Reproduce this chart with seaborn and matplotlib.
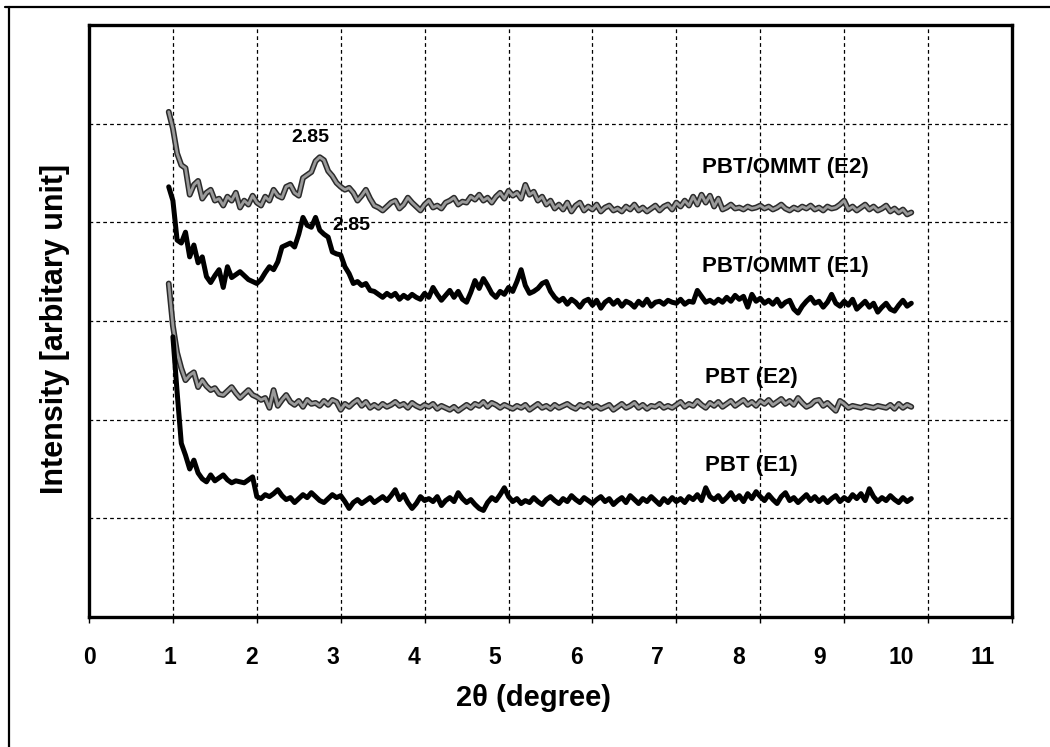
import numpy as np
import pandas as pd
import matplotlib
matplotlib.use("Agg")
import matplotlib.pyplot as plt
import matplotlib.patheffects as pe
from matplotlib.transforms import ScaledTranslation
from matplotlib.lines import Line2D
import seaborn as sns

# -------------------------------
# Data (2theta step 0.05)
# -------------------------------
start_e2 = 0.95
start_pbt_e1 = 1.00
step = 0.05

# PBT/OMMT (E2), grey
ommt_e2 = [
    5.12, 4.95, 4.70, 4.58, 4.55, 4.28, 4.38, 4.42, 4.24, 4.30,
    4.33, 4.22, 4.24, 4.17, 4.26, 4.22, 4.30, 4.15, 4.22, 4.18,
    4.27, 4.20, 4.17, 4.26, 4.22, 4.33, 4.27, 4.25, 4.36, 4.38,
    4.30, 4.27, 4.45, 4.48, 4.51, 4.62, 4.66, 4.63, 4.52, 4.47,
    4.40, 4.36, 4.33, 4.35, 4.30, 4.22, 4.27, 4.33, 4.24, 4.17,
    4.15, 4.12, 4.16, 4.20, 4.22, 4.14, 4.18, 4.25, 4.20, 4.16,
    4.12, 4.18, 4.22, 4.15, 4.17, 4.14, 4.20, 4.22, 4.25, 4.18,
    4.21, 4.20, 4.26, 4.23, 4.28, 4.22, 4.25, 4.20, 4.26, 4.30,
    4.24, 4.32, 4.27, 4.30, 4.24, 4.38, 4.28, 4.31, 4.22, 4.26,
    4.18, 4.22, 4.14, 4.18, 4.13, 4.20, 4.11, 4.17, 4.20, 4.12,
    4.16, 4.13, 4.18, 4.11, 4.15, 4.17, 4.12, 4.14, 4.11, 4.16,
    4.13, 4.18, 4.12, 4.15, 4.11, 4.14, 4.17, 4.12, 4.16, 4.18,
    4.13, 4.20, 4.16, 4.22, 4.17, 4.26, 4.18, 4.28, 4.20, 4.27,
    4.16, 4.24, 4.13, 4.15, 4.18, 4.14, 4.15, 4.13, 4.16, 4.14,
    4.15, 4.17, 4.14, 4.16, 4.13, 4.15, 4.18, 4.14, 4.12, 4.15,
    4.13, 4.16, 4.14, 4.17, 4.13, 4.15, 4.12, 4.16, 4.14, 4.15,
    4.18, 4.22, 4.13, 4.16, 4.12, 4.15, 4.18, 4.13, 4.16, 4.12,
    4.14, 4.17, 4.11, 4.14, 4.10, 4.13, 4.08, 4.10,
]

# PBT/OMMT (E1), black
ommt_e1 = [
    4.36, 4.22, 3.82, 3.79, 3.90, 3.65, 3.77, 3.59, 3.65, 3.45,
    3.39, 3.46, 3.52, 3.34, 3.55, 3.44, 3.47, 3.50, 3.46, 3.42,
    3.40, 3.38, 3.42, 3.49, 3.55, 3.52, 3.60, 3.75, 3.77, 3.79,
    3.75, 3.88, 4.05, 3.97, 3.95, 4.05, 3.92, 3.88, 3.85, 3.70,
    3.68, 3.67, 3.55, 3.48, 3.38, 3.40, 3.36, 3.38, 3.31, 3.30,
    3.27, 3.24, 3.28, 3.25, 3.28, 3.22, 3.26, 3.23, 3.27, 3.24,
    3.22, 3.28, 3.24, 3.34, 3.27, 3.21, 3.26, 3.31, 3.24, 3.30,
    3.22, 3.19, 3.29, 3.41, 3.33, 3.43, 3.36, 3.28, 3.24, 3.30,
    3.27, 3.34, 3.30, 3.40, 3.52, 3.36, 3.28, 3.30, 3.33, 3.38,
    3.40, 3.30, 3.24, 3.20, 3.23, 3.17, 3.22, 3.19, 3.14, 3.20,
    3.22, 3.16, 3.21, 3.13, 3.19, 3.22, 3.17, 3.21, 3.15, 3.20,
    3.18, 3.14, 3.20, 3.16, 3.22, 3.15, 3.19, 3.20, 3.17, 3.21,
    3.19, 3.18, 3.22, 3.17, 3.20, 3.19, 3.31, 3.25, 3.19, 3.21,
    3.18, 3.22, 3.19, 3.24, 3.20, 3.26, 3.22, 3.25, 3.14, 3.27,
    3.20, 3.23, 3.18, 3.21, 3.17, 3.22, 3.15, 3.19, 3.21, 3.12,
    3.08, 3.15, 3.20, 3.24, 3.18, 3.20, 3.14, 3.19, 3.27, 3.18,
    3.15, 3.20, 3.16, 3.22, 3.12, 3.16, 3.20, 3.14, 3.18, 3.09,
    3.14, 3.18, 3.12, 3.10, 3.16, 3.21, 3.15, 3.18,
]

# PBT (E2), grey
pbt_e2 = [
    3.38, 2.95, 2.68, 2.52, 2.40, 2.45, 2.48, 2.33, 2.40, 2.34,
    2.30, 2.32, 2.26, 2.25, 2.29, 2.33, 2.27, 2.22, 2.26, 2.30,
    2.25, 2.23, 2.20, 2.22, 2.12, 2.30, 2.14, 2.20, 2.25, 2.18,
    2.15, 2.19, 2.13, 2.20, 2.16, 2.17, 2.14, 2.19, 2.15, 2.20,
    2.18, 2.10, 2.16, 2.13, 2.17, 2.20, 2.14, 2.18, 2.12, 2.15,
    2.12, 2.16, 2.13, 2.15, 2.18, 2.14, 2.16, 2.12, 2.17, 2.14,
    2.12, 2.15, 2.13, 2.16, 2.11, 2.14, 2.12, 2.10, 2.13, 2.09,
    2.12, 2.15, 2.12, 2.16, 2.14, 2.18, 2.13, 2.17, 2.15, 2.12,
    2.15, 2.13, 2.11, 2.14, 2.12, 2.15, 2.10, 2.13, 2.16, 2.12,
    2.14, 2.11, 2.15, 2.12, 2.14, 2.16, 2.13, 2.11, 2.15, 2.13,
    2.16, 2.12, 2.14, 2.11, 2.13, 2.15, 2.10, 2.13, 2.16, 2.12,
    2.14, 2.17, 2.12, 2.15, 2.11, 2.14, 2.13, 2.16, 2.12, 2.14,
    2.12, 2.15, 2.18, 2.13, 2.16, 2.14, 2.19, 2.15, 2.12, 2.17,
    2.14, 2.18, 2.13, 2.16, 2.19, 2.14, 2.17, 2.20, 2.15, 2.18,
    2.14, 2.19, 2.16, 2.20, 2.15, 2.18, 2.21, 2.16, 2.19, 2.15,
    2.22, 2.17, 2.13, 2.15, 2.19, 2.20, 2.14, 2.17, 2.13, 2.09,
    2.19, 2.16, 2.12, 2.14, 2.13, 2.12, 2.14, 2.13, 2.12, 2.14,
    2.13, 2.12, 2.15, 2.11, 2.16, 2.12, 2.15, 2.13,
]

# PBT (E1), black (starts at 1.00)
pbt_e1 = [
    2.84, 2.28, 1.76, 1.64, 1.50, 1.59, 1.46, 1.40, 1.37, 1.44,
    1.38, 1.41, 1.44, 1.39, 1.36, 1.38, 1.37, 1.36, 1.39, 1.42,
    1.22, 1.20, 1.24, 1.22, 1.25, 1.29, 1.23, 1.19, 1.21, 1.16,
    1.20, 1.24, 1.21, 1.26, 1.22, 1.18, 1.16, 1.20, 1.24, 1.21,
    1.23, 1.17, 1.10, 1.16, 1.19, 1.15, 1.18, 1.21, 1.16, 1.19,
    1.22, 1.18, 1.23, 1.29, 1.19, 1.24, 1.16, 1.10, 1.15, 1.22,
    1.18, 1.20, 1.17, 1.22, 1.13, 1.18, 1.21, 1.17, 1.26, 1.20,
    1.16, 1.19, 1.14, 1.10, 1.08, 1.16, 1.21, 1.18, 1.24, 1.31,
    1.22, 1.17, 1.20, 1.15, 1.18, 1.16, 1.21, 1.17, 1.14, 1.19,
    1.22, 1.18, 1.15, 1.20, 1.17, 1.23, 1.19, 1.16, 1.21, 1.18,
    1.15, 1.19, 1.22, 1.17, 1.20, 1.14, 1.18, 1.21, 1.16, 1.23,
    1.19, 1.15, 1.20, 1.17, 1.22, 1.18, 1.14, 1.20, 1.16, 1.21,
    1.17, 1.20, 1.16, 1.22, 1.19, 1.24, 1.18, 1.31, 1.22, 1.19,
    1.23, 1.17, 1.21, 1.26, 1.19, 1.23, 1.17, 1.25, 1.20, 1.27,
    1.22, 1.18, 1.24, 1.19, 1.15, 1.22, 1.26, 1.18, 1.21, 1.16,
    1.20, 1.24, 1.18, 1.22, 1.17, 1.21, 1.16, 1.20, 1.23, 1.17,
    1.21, 1.18, 1.24, 1.20, 1.25, 1.18, 1.30, 1.22, 1.17, 1.21,
    1.18, 1.23, 1.19, 1.16, 1.21, 1.17, 1.20,
]

x_ticks = list(range(12))

# curve labels: (text, x, y)
curve_labels = [
    ("PBT/OMMT (E2)", 8.30, 4.56),
    ("PBT/OMMT (E1)", 8.30, 3.55),
    ("PBT (E2)", 7.89, 2.43),
    ("PBT (E1)", 7.89, 1.54),
]
peak_labels = [
    ("2.85", 2.64, 4.86),
    ("2.85", 3.13, 3.97),
]

# -------------------------------
# Plot
# -------------------------------
sns.set_theme(style="white")
plt.rcParams["font.family"] = ["Liberation Sans", "DejaVu Sans"]
plt.rcParams["font.weight"] = "bold"
plt.rcParams["text.color"] = "black"
plt.rcParams["axes.labelcolor"] = "black"
plt.rcParams["xtick.color"] = "black"

fig = plt.figure(figsize=(10.5, 7.47), dpi=100)
ax = fig.add_axes([89 / 1050, 130 / 747, 923 / 1050, 592 / 747])

grey_fx = [pe.Stroke(linewidth=4.2, foreground="#2b2b2b"), pe.Normal()]

series = [
    (ommt_e2, start_e2, "#9a9a9a", 2.0, grey_fx),
    (ommt_e1, start_e2, "black", 3.6, None),
    (pbt_e2, start_e2, "#9a9a9a", 2.0, grey_fx),
    (pbt_e1, start_pbt_e1, "black", 3.6, None),
]
for vals, x0, col, lw, fx in series:
    df = pd.DataFrame({"x": x0 + step * np.arange(len(vals)), "y": vals})
    sns.lineplot(data=df, x="x", y="y", ax=ax, color=col, lw=lw, zorder=3)
    if fx:
        ax.lines[-1].set_path_effects(fx)

ax.set_xlim(0, 11)
ax.set_ylim(0, 6)
ax.set_xticks(x_ticks)
ax.set_yticks([1, 2, 3, 4, 5])
ax.set_yticklabels([])
ax.grid(True, color="black", linestyle=(0, (3, 2.5)), linewidth=0.9)
ax.tick_params(axis="x", direction="out", length=4, width=1, colors="black",
               labelsize=16.5, pad=17, bottom=True)
ax.tick_params(axis="y", length=0)
for sp in ax.spines.values():
    sp.set_color("black")
    sp.set_linewidth(2.4)

# scanned tick labels drift a little to the left
for i, lab in enumerate(ax.get_xticklabels()):
    lab.set_fontweight("bold")
    lab.set_transform(lab.get_transform() + ScaledTranslation(-0.027 * i, 0, fig.dpi_scale_trans))

ax.set_xlabel("2θ (degree)", fontsize=21, fontweight="bold", color="black", labelpad=11)
ax.xaxis.label.set_x(0.482)
ax.set_ylabel("Intensity [arbitary unit]", fontsize=22, fontweight="bold", color="black", labelpad=10)
ax.yaxis.label.set_y(0.486)

for txt, x, y in curve_labels:
    ax.text(x, y, txt, fontsize=16, fontweight="bold", color="black", ha="center", va="center", zorder=4)
for txt, x, y in peak_labels:
    ax.text(x, y, txt, fontsize=14, fontweight="bold", color="black", ha="center", va="center", zorder=4)

# outer frame of the scanned figure (top and left edges)
fig.add_artist(Line2D([5 / 1050, 1.0], [1 - 7 / 747, 1 - 7 / 747], color="black", lw=1.6))
fig.add_artist(Line2D([9 / 1050, 9 / 1050], [0.0, 1 - 7 / 747], color="black", lw=1.6))

plt.savefig("out.png", dpi=100)
